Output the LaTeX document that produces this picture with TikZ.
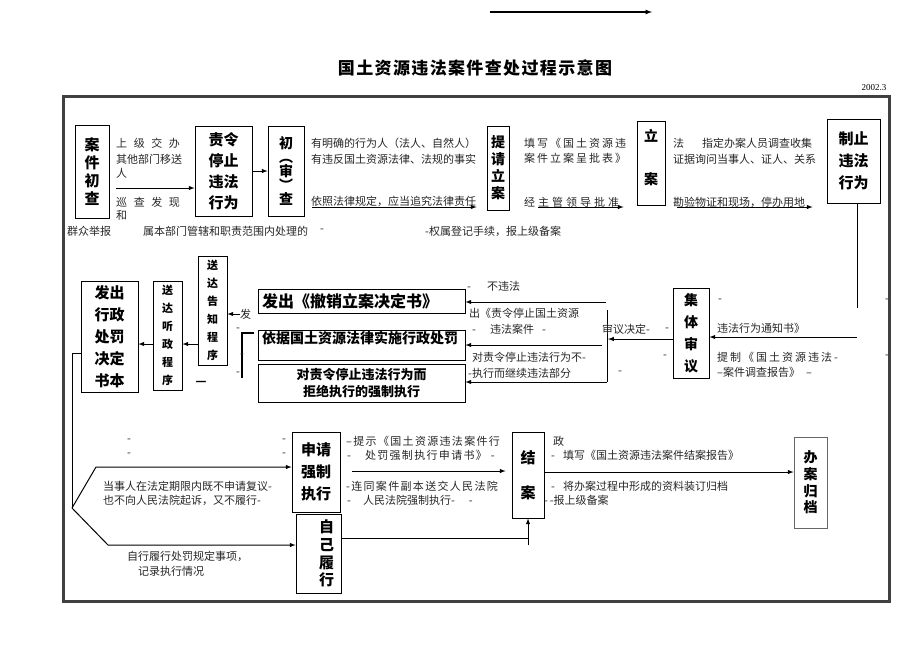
\documentclass[tikz,border=0pt]{standalone}
\usepackage{fontspec}
\setmainfont{Noto Sans CJK SC}
\newfontfamily\datefont{Liberation Serif}
\usetikzlibrary{arrows,positioning}
\newcommand{\tracked}[2]{{\addfontfeature{LetterSpace=#1}#2}}

\begin{document}
\begin{tikzpicture}[x=1pt,y=-1pt,
    box/.style={draw,line width=0.8pt,inner sep=0pt,align=center,font=\bfseries\fontsize{15}{21}\selectfont},
    smallbox/.style={box,font=\bfseries\fontsize{11}{18}\selectfont},
    note/.style={anchor=west,inner sep=0pt,font=\fontsize{11}{13}\selectfont,text=black!85},
    link/.style={-latex,line width=1pt},
    plain/.style={line width=1pt}]
    \useasboundingbox (0,0) rectangle (920,651);

    \coordinate (topL) at (490,12);
    \coordinate (topR) at (652,12);
    \draw[link,line width=1.2pt] (topL) -- (topR);
    \node (title) at (475,68) {\bfseries\fontsize{17}{17}\selectfont\tracked{8}{国土资源违法案件查处过程示意图}};
    \node[inner sep=0pt] (date) at (874,88) {\datefont\fontsize{9}{9}\selectfont 2002.3};
    \draw[line width=2.5pt,black!75] (63.5,96.5) rectangle (889.5,601.5);

    \node[box,minimum width=34,minimum height=93,font=\bfseries\fontsize{15}{18}\selectfont] (chucha) at (92,171.5) {案\\件\\初\\查};
    \node[box,minimum width=57,minimum height=90] (zeling) at (223.5,171) {责令\\停止\\违法\\行为};
    \node[box,minimum width=36,minimum height=90,font=\bfseries\fontsize{14}{14}\selectfont] (shencha) at (286,171) {初\\︵\\审\\︶\\查};
    \node[box,minimum width=22,minimum height=84,font=\bfseries\fontsize{14}{17}\selectfont] (tiqing) at (498,168) {提\\请\\立\\案};
    \node[box,minimum width=28,inner ysep=0pt,text height=63,text depth=21,font=\bfseries\fontsize{14}{17}\selectfont] (lian) at (651,163) {立\\[26pt]案};
    \node[box,minimum width=53,minimum height=84,font=\bfseries\fontsize{15}{22}\selectfont] (zhizhi) at (853.5,161) {制止\\违法\\行为};

    \node[note] (shangji) at (116,143) {\tracked{60}{上级交办}};
    \node[note] (qita) at (116,159) {其他部门移送};
    \node[note] (ren) at (116,173) {人};
    \node[note] (xuncha) at (116,202) {\tracked{60}{巡查发现}};
    \node[note] (he) at (116,215) {和};
    \node[note] (youming) at (311,143) {有明确的行为人（法人、自然人）};
    \node[note] (youwei) at (311,159) {有违反国土资源法律、法规的事实};
    \node[note] (yizhao) at (311,201) {依照法律规定，应当追究法律责任};
    \node[note] (qunzhong) at (67,231) {群众举报};
    \node[note] (shuben) at (143,231) {属本部门管辖和职责范围内处理的};
    \node[note] (d1) at (320,231) {-};
    \node[note] (quanshu) at (425,231) {-权属登记手续，报上级备案};
    \node[note] (tianxie) at (524,143) {\tracked{18}{填写《国土资源违}};
    \node[note] (anjian) at (524,158) {\tracked{18}{案件立案呈批表》}};
    \node[note] (jingzhu) at (524,202) {\tracked{27}{经主管领导批准}};
    \node[note] (zhiding) at (673,143) {法\hspace{18pt}指定办案人员调查收集};
    \node[note] (zhengju) at (673,159) {证据询问当事人、证人、关系};
    \node[note] (kanyan) at (673,202) {勘验物证和现场，停办用地};

    \coordinate (s1) at (116,188);
    \draw[link] (s1) -- (s1 -| zeling.west);
    \draw[link] (zeling) -- (shencha);
    \coordinate (s2) at (312,207);
    \draw[link,shorten >=10pt] (s2) -- (s2 -| tiqing.west);
    \coordinate (s3) at (538,207);
    \draw[link,shorten >=13pt] (s3) -- (s3 -| lian.west);
    \coordinate (s4) at (677,207);
    \draw[link,shorten >=14pt] (s4) -- (s4 -| zhizhi.west);
    \coordinate (s5) at (857,308);
    \draw[plain] (s5 |- zhizhi.south) -- (s5);

    \node[box,minimum width=36,minimum height=90,font=\bfseries\fontsize{14}{22}\selectfont] (jiti) at (691,333) {集\\体\\审\\议};
    \node[box,minimum width=207,minimum height=24,text width=199,align=left,inner xsep=4,font=\bfseries\fontsize{16}{16}\selectfont] (chexiao) at (361.5,301) {发出《撤销立案决定书》};
    \node[box,text width=199,align=left,inner xsep=4,inner ysep=3,text height=10,text depth=14,font=\bfseries\fontsize{14}{14}\selectfont] (yiju) at (361.5,345) {依据国土资源法律实施行政处罚};
    \node[box,minimum width=207,minimum height=38,font=\bfseries\fontsize{13}{17}\selectfont] (qiangzhi) at (361.5,383) {对责令停止违法行为而\\拒绝执行的强制执行};
    \node[smallbox,minimum width=29,minimum height=109] (gaozhi) at (212.5,310.5) {送\\达\\告\\知\\程\\序};
    \node[smallbox,minimum width=29,minimum height=109] (tingzheng) at (167.5,335.5) {送\\达\\听\\政\\程\\序};
    \node[box,minimum width=57,minimum height=111,font=\bfseries\fontsize{15}{22}\selectfont] (fachu) at (109.5,336.5) {发出\\行政\\处罚\\决定\\书本};

    \coordinate (s6) at (857,337);
    \draw[link] (s6) -- (s6 -| jiti.east);
    \coordinate (barT) at (607,310);
    \coordinate (barB) at (607,382);
    \draw[plain] (barT) -- (barB);
    \coordinate (s7) at (608,339);
    \draw[link] (jiti.west |- s7) -- (s7);
    \coordinate (b1) at (606,302);
    \coordinate (b2) at (602,345);
    \coordinate (b3) at (607,382);
    \draw[link] (b1) -- (b1 -| chexiao.east);
    \draw[link] (b2) -- (b2 -| yiju.east);
    \draw[link] (b3) -- (b3 -| qiangzhi.east);
    \coordinate (k1) at (254,333);
    \coordinate (k2) at (242,378);
    \draw[line width=1.3pt] (k1) -| (k2);
    \coordinate (r2) at (0,344);
    \draw[link] (gaozhi.west |- r2) -- (tingzheng.east |- r2);
    \draw[link] (tingzheng.west |- r2) -- (fachu.east |- r2);
    \node[note] (fa) at (240,314) {发};
    \draw[link] (fa.west) -- (fa.west -| gaozhi.east);
    \node[inner sep=0pt,font=\bfseries\fontsize{12}{12}\selectfont] (stroke) at (201,383) {—};

    \node[note] (tongzhi) at (717,328) {违法行为通知书》};
    \node[note] (tizhi) at (717,357) {\tracked{18}{提制《国土资源违法-}};
    \node[note] (diaocha) at (717,372) {–案件调查报告》\hspace{6pt}–};
    \node[note] (d2) at (718,301) {-};
    \node[note] (d3) at (885,301) {-};
    \node[note] (d4) at (885,357) {-};
    \node[note] (d5) at (665,330) {-};
    \node[note] (d6) at (663,357) {-};
    \node[note] (d7) at (618,373) {-};
    \node[note] (buweifa) at (467,286) {-\hspace{16pt}不违法};
    \node[note] (chuze) at (469,313) {出《责令停止国土资源};
    \node[note] (weifaaj) at (472,329) {-\hspace{14pt}违法案件\hspace{8pt}-};
    \node[note] (shenyi) at (602,329) {审议决定-};
    \node[note] (duize) at (472,357) {对责令停止违法行为不-};
    \node[note] (zhixing) at (468,373) {-执行而继续违法部分};
    \node[note] (d8) at (236,330) {-};
    \node[note] (d9) at (240,356) {-};
    \node[note] (d10) at (236,374) {-};

    \node[box,minimum width=48,minimum height=80,font=\bfseries\fontsize{15}{22}\selectfont] (shenqing) at (316,472) {申请\\强制\\执行};
    \node[box,minimum width=45,minimum height=79,text width=31,inner xsep=7,align=right,font=\bfseries\fontsize{15}{17.6}\selectfont] (ziji) at (318.5,553.5) {自\\己\\履\\行};
    \node[box,minimum width=32,minimum height=86,font=\bfseries\fontsize{15}{35}\selectfont] (jiean) at (528,475) {结\\案};
    \node[box,draw=black!60,minimum width=33,minimum height=91,font=\bfseries\fontsize{14}{16.7}\selectfont] (guidang) at (810.5,482.5) {办\\案\\归\\档};

    \coordinate (f0) at (72,353);
    \coordinate (fork) at (72,508);
    \coordinate (up) at (96,467);
    \coordinate (dn) at (108,545);
    \draw[plain] (fachu.west |- f0) -- (f0) -- (fork);
    \draw[link] (fork) -- (up) -- (up -| shenqing.west);
    \draw[link] (fork) -- (dn) -- (dn -| ziji.west);
    \coordinate (s8) at (352,471);
    \draw[link,shorten >=6pt] (s8) -- (s8 -| jiean.west);
    \coordinate (j0) at (528,538);
    \coordinate (j1) at (528,545);
    \draw[plain] (ziji.east |- j0) -- (j0);
    \draw[link] (j1) -- (jiean.south);
    \coordinate (r3) at (0,472);
    \draw[link] (jiean.east |- r3) -- (guidang.west |- r3);

    \node[note] (d11) at (127,441) {-};
    \node[note] (d12) at (127,455) {-};
    \node[note] (d13) at (282,441) {-};
    \node[note] (d14) at (282,455) {-};
    \node[note] (dangshi) at (103,486) {当事人在法定期限内既不申请复议-};
    \node[note] (yebu) at (103,500) {也不向人民法院起诉，又不履行-};
    \node[note] (zixing) at (127,556) {自行履行处罚规定事项，};
    \node[note] (jilu) at (138,571) {记录执行情况};
    \node[note] (tishi) at (346,441) {\tracked{12}{--提示《国土资源违法案件行}};
    \node[note] (chufa) at (347,455) {-\hspace{14pt}\tracked{12}{处罚强制执行申请书》}\hspace{4pt}-};
    \node[note] (liantong) at (346,486) {\tracked{12}{-连同案件副本送交人民法院}};
    \node[note] (renmin) at (347,500) {-\hspace{12pt}人民法院强制执行-\hspace{14pt}-};
    \node[note] (zheng) at (553,441) {政};
    \node[note] (tianjie) at (551,455) {-\hspace{8pt}填写《国土资源违法案件结案报告》};
    \node[note] (jiang) at (551,486) {-\hspace{8pt}将办案过程中形成的资料装订归档};
    \node[note] (baoshang) at (544,500) {-\,-报上级备案};
  \end{tikzpicture}
\end{document}
